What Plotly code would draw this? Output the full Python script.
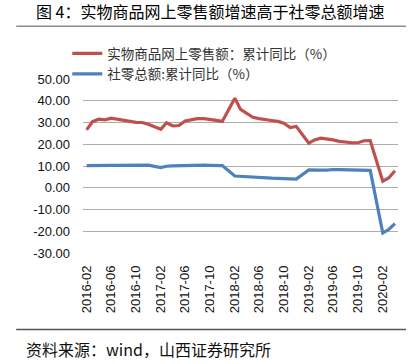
import plotly.graph_objects as go

# ---- data ----
months = (
    [f"2016-{m:02d}" for m in range(2, 13)]
    + [f"2017-{m:02d}" for m in range(2, 13)]
    + [f"2018-{m:02d}" for m in range(2, 13)]
    + [f"2019-{m:02d}" for m in range(2, 13)]
    + ["2020-02", "2020-03", "2020-04"]
)
online_retail = [
    26.6, 30.4, 31.5, 31.2, 32.0, 31.5, 30.9, 30.3, 30.1, 30.0, 29.2,
    26.9, 29.9, 28.4, 28.6, 30.7, 31.2, 31.8, 31.8, 31.5, 31.0, 30.5,
    41.2, 36.0, 34.0, 32.4, 31.8, 31.5, 30.9, 30.5, 29.7, 27.7, 28.2,
    20.5, 22.0, 22.8, 22.5, 22.0, 21.3, 20.9, 20.7, 20.7, 21.6, 21.7,
    3.0, 4.5, 7.8,
]
total_retail = [
    10.2, 10.3, 10.3, 10.2, 10.3, 10.3, 10.3, 10.4, 10.3, 10.4, 10.4,
    9.3, 9.9, 10.1, 10.2, 10.4, 10.4, 10.4, 10.4, 10.3, 10.3, 10.2,
    5.4, 5.2, 5.0, 4.8, 4.6, 4.5, 4.4, 4.3, 4.2, 4.1, 4.0,
    8.2, 8.3, 8.1, 8.1, 8.4, 8.3, 8.2, 8.2, 8.1, 8.0, 8.0,
    -20.8, -19.2, -16.5,
]
name_online = "实物商品网上零售额：累计同比（%）"
name_total = "社零总额:累计同比（%）"
title_text = "图 4：实物商品网上零售额增速高于社零总额增速"
source_text = "资料来源：wind，山西证券研究所"
y_ticks = [50, 40, 30, 20, 10, 0, -10, -20, -30]

dates = [m + "-01" for m in months]

CJK = "Noto Sans CJK SC"
NUM = "Liberation Sans, Arial"

fig = go.Figure()
fig.add_trace(go.Scatter(x=dates, y=online_retail, mode="lines", name=name_online,
                         line=dict(color="#C0504D", width=3.2)))
fig.add_trace(go.Scatter(x=dates, y=total_retail, mode="lines", name=name_total,
                         line=dict(color="#4F81BD", width=3.2)))

fig.update_layout(
    width=415, height=364,
    margin=dict(l=83, r=17, t=79, b=111, pad=0, autoexpand=False),
    paper_bgcolor="white", plot_bgcolor="white",
    showlegend=True,
    legend=dict(x=-0.05, y=1.235, xanchor="left", yanchor="top",
                font=dict(family=CJK, size=13.5, color="#333"),
                bgcolor="rgba(0,0,0,0)", tracegroupgap=0, itemwidth=30),
    xaxis=dict(type="date", range=["2016-01-14", "2020-04-16"],
               tick0="2016-02-01", dtick="M4", tickformat="%Y-%m",
               tickangle=-90, showgrid=False, zeroline=False, showline=False,
               ticks="", ticklabelstandoff=9,
               tickfont=dict(family=NUM, size=13, color="#111")),
    yaxis=dict(range=[-30, 50], tickvals=y_ticks,
               ticktext=[f"{v:.2f}" for v in y_ticks],
               showgrid=True, gridcolor="#ADADAD", gridwidth=1.3,
               zeroline=False, showline=False, ticks="", ticklabelstandoff=12,
               tickfont=dict(family=NUM, size=13, color="#111")),
    shapes=[
        dict(type="line", xref="paper", yref="paper", x0=-0.212, x1=1.0254,
             y0=1.303, y1=1.303, line=dict(color="#8C8C8C", width=1.5)),
        dict(type="line", xref="paper", yref="paper", x0=-0.212, x1=1.0254,
             y0=-0.44, y1=-0.44, line=dict(color="#555555", width=1.5)),
    ],
    annotations=[
        dict(text=title_text, xref="paper", yref="paper", x=0.403, y=1.392,
             xanchor="center", yanchor="middle", showarrow=False,
             font=dict(family=CJK, size=16, color="#000")),
        dict(text=source_text, xref="paper", yref="paper", x=-0.186, y=-0.553,
             xanchor="left", yanchor="middle", showarrow=False,
             font=dict(family=CJK, size=16, color="#111")),
    ],
)

fig.write_html("out.html", config={"displayModeBar": False},
               post_script="document.body.style.margin='0';document.body.style.overflow='hidden';")
